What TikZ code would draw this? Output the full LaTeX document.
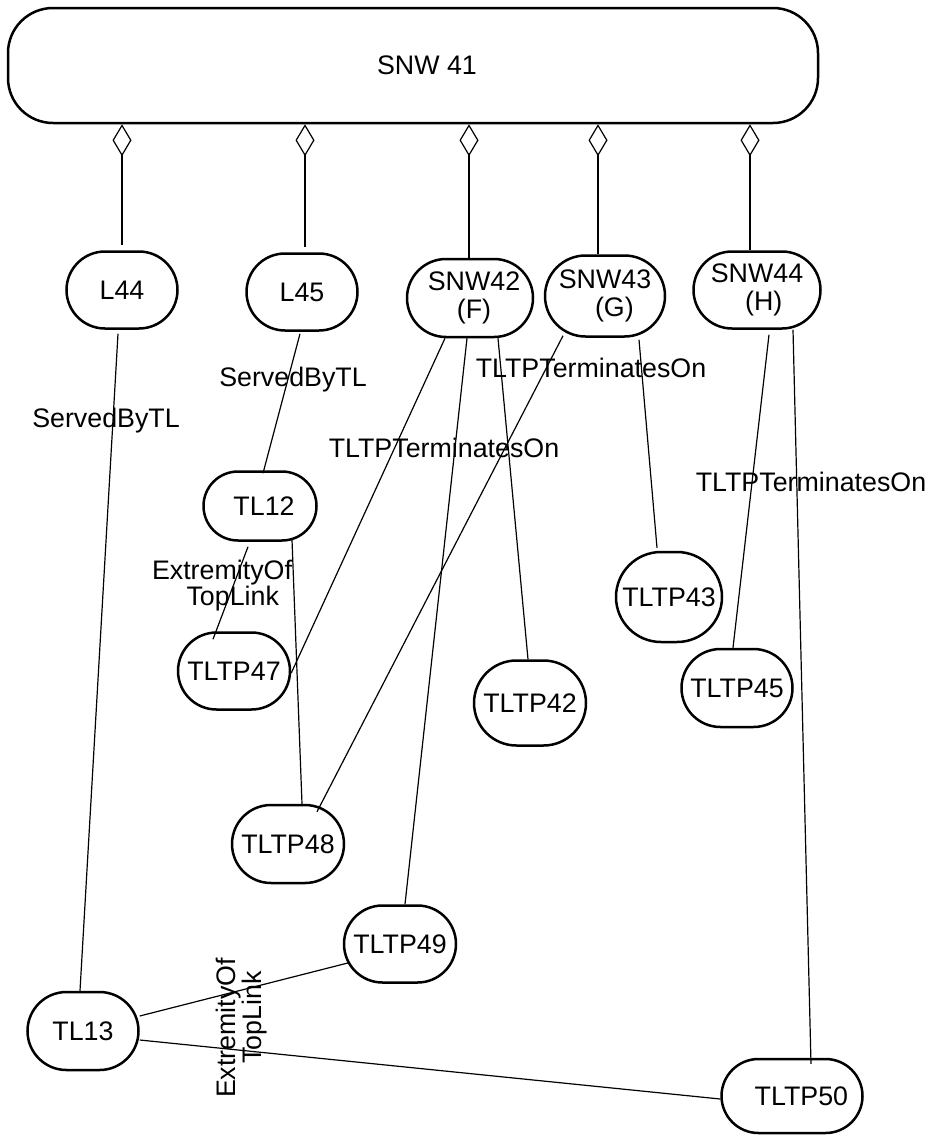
\documentclass[tikz,border=0pt]{standalone}
\usepackage{fontspec}
\setmainfont{Liberation Sans}
\usetikzlibrary{arrows.meta,calc,shapes.misc}
\begin{document}
\begin{tikzpicture}[x=1pt,y=-1pt,
  ent/.style={draw, rounded rectangle, line width=2.5pt, inner sep=0pt, align=center,
              font=\fontsize{26.8}{27.5}\selectfont},
  conn/.style={line width=1.2pt},
  agg/.style={line width=1.2pt, {Diamond[open,length=32pt,width=19pt]}-},
  lbl/.style={inner sep=0pt, align=center, font=\fontsize{26.8}{26}\selectfont}]
\useasboundingbox (0,0) rectangle (930,1135);

% top container
\node[draw, line width=2.5pt, rounded corners=45pt, inner sep=0pt, font=\fontsize{26.8}{27.5}\selectfont,
      minimum width=810pt, minimum height=115pt] (snw41) at (413,65.5) {\hspace*{28pt}SNW 41};

% second row
\node[ent, minimum width=111pt, minimum height=77pt] (l44) at (122,290) {L44};
\node[ent, minimum width=111pt, minimum height=77pt] (l45) at (302,292) {L45};
\node[ent, minimum width=126pt, minimum height=78pt] (snw42) at (470,298) {\hspace*{8pt}SNW42\\\hspace*{8pt}(F)};
\node[ent, minimum width=120pt, minimum height=81pt] (snw43) at (605,296) {SNW43\\\hspace*{0.7em}(G)};
\node[ent, minimum width=127pt, minimum height=77pt] (snw44) at (757,290) {SNW44\\\hspace*{0.5em}(H)};

% lower nodes
\node[ent, minimum width=113pt, minimum height=69pt] (tl12) at (260,506) {\hspace*{0.3em}TL12};
\node[ent, minimum width=112pt, minimum height=77pt] (tltp47) at (234,671) {TLTP47};
\node[ent, minimum width=112pt, minimum height=85pt] (tltp42) at (530,703) {TLTP42};
\node[ent, minimum width=106pt, minimum height=90pt] (tltp43) at (669,597) {TLTP43};
\node[ent, minimum width=111pt, minimum height=78pt] (tltp45) at (737,688) {TLTP45};
\node[ent, minimum width=112pt, minimum height=78pt] (tltp48) at (288,844) {TLTP48};
\node[ent, minimum width=112pt, minimum height=77pt] (tltp49) at (400,944) {TLTP49};
\node[ent, minimum width=111pt, minimum height=78pt] (tl13) at (83,1031) {TL13};
\node[ent, minimum width=141pt, minimum height=74pt] (tltp50) at (792,1096) {\hspace*{0.7em}TLTP50};

% aggregation connectors
\draw[agg] (snw41.south -| l44.north) -- ([shift={(0,-5)}]l44.north);
\draw[agg] ($(snw41.south -| l45.north)+(3,0)$) -- ([shift={(3,-5)}]l45.north);
\draw[agg] ($(snw41.south -| snw42.north)+(-1,0)$) -- ([shift={(-1,0)}]snw42.north);
\draw[agg] ($(snw41.south -| snw43.north)+(-7,0)$) -- ([shift={(-7,0)}]snw43.north);
\draw[agg] ($(snw41.south -| snw44.north)+(-7,0)$) -- ([shift={(-7,0)}]snw44.north);

% association connectors
\draw[conn] ([shift={(-4,4)}]l44.south) -- ([shift={(-3,0)}]tl13.north);
\draw[conn] ([shift={(-2,2)}]l45.south) -- ([shift={(3,3)}]tl12.north);
\draw[conn] ([shift={(-12,5)}]tl12.south) -- ([shift={(-21,8)}]tltp47.north);
\draw[conn] ([shift={(32,-2)}]tl12.south) -- ([shift={(14,0)}]tltp48.north);
\draw[conn] ([shift={(-25,0)}]snw42.south) -- ([shift={(0,2)}]tltp47.east);
\draw[conn] ([shift={(-3,0)}]snw42.south) -- ([shift={(5,0)}]tltp49.north);
\draw[conn] ([shift={(28,0)}]snw42.south) -- ([shift={(-2,0)}]tltp42.north);
\draw[conn] ([shift={(-42,-2)}]snw43.south) -- ([shift={(29,8)}]tltp48.north);
\draw[conn] ([shift={(34,2)}]snw43.south) -- ([shift={(-12,-3)}]tltp43.north);
\draw[conn] ([shift={(12,5)}]snw44.south) -- ([shift={(-4,0)}]tltp45.north);
\draw[conn] ([shift={(36,0)}]snw44.south) -- ([shift={(19,6)}]tltp50.north);
\draw[conn] ([shift={(0,-15)}]tl13.east) -- ([shift={(5,19)}]tltp49.west);
\draw[conn] ([shift={(0,9)}]tl13.east) -- ([shift={(0,3)}]tltp50.west);

% connector labels
\node[lbl] (s1) at (106,421) {ServedByTL};
\node[lbl] (s2) at (293,380) {ServedByTL};
\node[lbl] (e1) at (222,586) {ExtremityOf\\\hspace*{0.8em}TopLink};
\node[lbl] (t1) at (444,448) {TLTPTerminatesOn};
\node[lbl] (t2) at (591,368) {TLTPTerminatesOn};
\node[lbl] (t3) at (811,482) {TLTPTerminatesOn};
\node[lbl, rotate=90] (e2) at (242,1028) {ExtremityOf\\\hspace*{0.8em}TopLink};
\end{tikzpicture}
\end{document}
